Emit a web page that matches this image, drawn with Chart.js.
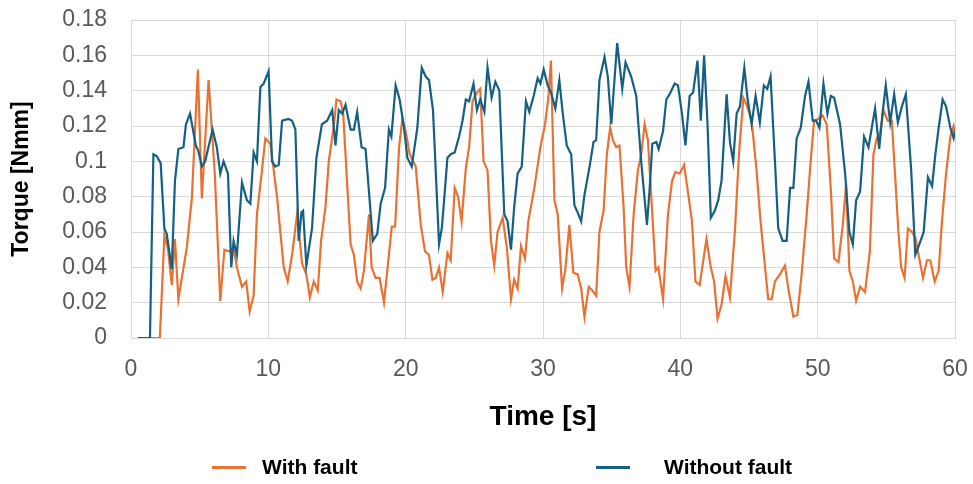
<!DOCTYPE html>
<html>
<head>
<meta charset="utf-8">
<script src="https://cdn.jsdelivr.net/npm/chart.js@4"></script>
<style>
  html, body { margin: 0; padding: 0; background: #ffffff; }
  #wrap { position: relative; width: 973px; height: 484px; font-family: "Liberation Sans", Arial, sans-serif; }
  #chart { position: absolute; left: 0; top: 0; }
  .lg-item { position: absolute; top: 455px; height: 24px; }
  .lg-swatch { position: absolute; top: 11px; height: 3px; width: 34px; }
  .lg-text { position: absolute; top: 0; left: 50px; font-weight: bold; font-size: 21px; line-height: 24px; color: #000; white-space: nowrap; }
</style>
</head>
<body>
<div id="wrap">
  <canvas id="chart" width="973" height="484"></canvas>
  <div id="legend"></div>
</div>
<script>
// ---- Data ----
const seriesNames = ["With fault", "Without fault"];

const faultTime = [0.5,2.1,2.43,2.68,2.97,3.2,3.45,4.06,4.43,4.87,5.16,5.65,6.1,6.5,6.8,7.15,7.47,7.71,8.08,8.39,8.64,8.93,9.17,9.54,9.78,10.15,10.63,11.12,11.41,11.73,12.09,12.46,12.77,13.02,13.31,13.6,13.84,14.16,14.4,14.77,14.96,15.26,15.45,15.99,16.23,16.47,16.72,16.96,17.33,17.52,17.81,18.1,18.42,18.78,18.99,19.23,19.52,19.76,20.0,20.29,20.73,21.1,21.41,21.7,21.95,22.19,22.43,22.7,23.04,23.28,23.57,23.82,24.07,24.38,24.62,24.87,25.11,25.43,25.67,25.96,26.21,26.45,26.69,27.06,27.37,27.67,27.9,28.15,28.4,28.69,28.93,29.37,29.81,30.15,30.39,30.58,30.83,31.07,31.39,31.63,31.92,32.21,32.53,32.78,33.02,33.33,33.58,33.87,34.11,34.41,34.65,34.89,35.09,35.33,35.57,35.87,36.06,36.3,36.6,36.91,37.15,37.4,37.64,37.96,38.2,38.4,38.74,39.1,39.4,39.64,39.95,40.27,40.51,40.85,41.1,41.41,41.9,42.22,42.46,42.71,43.0,43.29,43.61,43.97,44.27,44.59,44.83,45.19,45.55,45.84,46.08,46.4,46.65,46.89,47.25,47.62,47.86,48.23,48.52,48.83,49.2,49.49,49.74,50.04,50.36,50.66,50.95,51.2,51.51,51.83,52.07,52.31,52.56,52.8,53.09,53.45,53.8,54.06,54.3,54.55,54.79,55.1,55.4,55.6,55.88,56.08,56.33,56.57,56.86,57.11,57.4,57.67,57.96,58.2,58.52,58.81,59.05,59.35,59.66,59.9,60.0];
const faultTorque = [0,0,0.058,0.051,0.030,0.056,0.022,0.051,0.079,0.152,0.079,0.146,0.093,0.021,0.050,0.049,0.051,0.040,0.029,0.032,0.015,0.024,0.070,0.095,0.113,0.110,0.080,0.040,0.032,0.047,0.070,0.042,0.036,0.023,0.032,0.027,0.055,0.074,0.100,0.120,0.135,0.134,0.127,0.053,0.047,0.032,0.028,0.038,0.070,0.040,0.034,0.034,0.020,0.047,0.063,0.063,0.108,0.124,0.117,0.104,0.097,0.064,0.049,0.047,0.033,0.034,0.040,0.026,0.048,0.044,0.085,0.080,0.066,0.096,0.108,0.134,0.138,0.141,0.100,0.095,0.055,0.041,0.060,0.068,0.051,0.022,0.033,0.028,0.052,0.045,0.066,0.085,0.108,0.121,0.136,0.157,0.078,0.070,0.028,0.039,0.064,0.037,0.036,0.028,0.012,0.029,0.027,0.024,0.060,0.072,0.104,0.119,0.112,0.108,0.109,0.074,0.040,0.029,0.070,0.095,0.104,0.121,0.112,0.070,0.038,0.040,0.022,0.070,0.089,0.094,0.093,0.098,0.085,0.066,0.032,0.030,0.056,0.040,0.032,0.011,0.019,0.035,0.023,0.060,0.104,0.136,0.132,0.123,0.095,0.066,0.047,0.022,0.022,0.032,0.036,0.041,0.028,0.012,0.013,0.036,0.070,0.100,0.123,0.124,0.126,0.121,0.085,0.045,0.043,0.064,0.087,0.038,0.032,0.021,0.029,0.026,0.049,0.104,0.113,0.116,0.129,0.123,0.123,0.097,0.060,0.040,0.034,0.062,0.060,0.057,0.045,0.034,0.044,0.044,0.032,0.038,0.066,0.093,0.114,0.120,0.115];

const normalTime = [0.5,1.38,1.63,1.87,2.16,2.43,2.6,2.97,3.2,3.45,3.82,4.0,4.3,4.72,4.9,5.16,5.4,5.94,6.25,6.5,6.74,7.06,7.3,7.47,7.71,8.08,8.44,8.69,8.93,9.17,9.42,9.66,10.02,10.27,10.51,10.76,11.0,11.48,11.73,11.97,12.21,12.41,12.53,12.77,13.18,13.5,13.9,14.28,14.65,14.89,15.13,15.38,15.62,15.99,16.23,16.47,16.79,17.08,17.61,17.93,18.18,18.5,18.78,18.96,19.27,19.56,19.88,20.12,20.44,20.85,21.17,21.46,21.7,21.99,22.43,22.63,22.8,23.04,23.28,23.57,23.89,24.14,24.38,24.62,24.94,25.19,25.43,25.73,25.96,26.26,26.53,26.82,27.18,27.42,27.67,27.9,28.15,28.45,28.76,29.0,29.32,29.61,29.81,30.05,30.34,30.58,30.9,31.19,31.44,31.73,32.05,32.29,32.53,32.78,33.02,33.39,33.68,33.87,34.11,34.48,34.72,34.97,35.4,35.77,36.01,36.42,36.79,37.15,37.57,37.77,37.96,38.25,38.42,38.74,38.98,39.22,39.59,39.83,40.12,40.37,40.68,40.93,41.25,41.49,41.73,41.98,42.22,42.51,42.76,43.0,43.37,43.61,43.85,44.1,44.34,44.66,44.9,45.19,45.48,45.79,46.08,46.33,46.57,46.89,47.13,47.45,47.74,47.99,48.23,48.47,48.77,49.08,49.33,49.64,49.89,50.13,50.42,50.71,50.96,51.2,51.63,52.0,52.31,52.56,52.8,53.09,53.38,53.7,54.18,54.48,54.72,54.96,55.28,55.57,55.84,56.13,56.42,56.81,57.11,57.4,57.72,58.03,58.33,58.57,58.81,59.1,59.35,59.66,59.9,60.0];
const normalTorque = [0,0,0.104,0.103,0.099,0.062,0.059,0.039,0.089,0.107,0.108,0.121,0.127,0.109,0.106,0.097,0.100,0.118,0.108,0.093,0.100,0.093,0.040,0.055,0.047,0.088,0.078,0.076,0.105,0.100,0.142,0.144,0.151,0.100,0.097,0.098,0.123,0.124,0.123,0.118,0.055,0.071,0.072,0.041,0.062,0.102,0.121,0.123,0.129,0.109,0.129,0.127,0.132,0.118,0.118,0.128,0.108,0.107,0.055,0.059,0.076,0.085,0.118,0.114,0.143,0.135,0.119,0.102,0.097,0.119,0.153,0.148,0.146,0.129,0.053,0.062,0.078,0.102,0.104,0.105,0.114,0.123,0.135,0.134,0.144,0.129,0.135,0.128,0.153,0.136,0.145,0.140,0.070,0.066,0.050,0.074,0.093,0.097,0.134,0.128,0.137,0.147,0.144,0.152,0.143,0.139,0.130,0.146,0.127,0.109,0.104,0.075,0.071,0.066,0.081,0.097,0.111,0.112,0.146,0.159,0.148,0.121,0.167,0.141,0.156,0.148,0.137,0.100,0.064,0.085,0.110,0.111,0.107,0.117,0.135,0.138,0.144,0.143,0.127,0.109,0.137,0.139,0.157,0.123,0.160,0.121,0.068,0.072,0.078,0.089,0.138,0.111,0.100,0.127,0.131,0.153,0.135,0.121,0.137,0.122,0.143,0.141,0.148,0.100,0.062,0.055,0.055,0.085,0.085,0.113,0.119,0.137,0.145,0.123,0.123,0.119,0.144,0.127,0.137,0.136,0.121,0.093,0.060,0.053,0.078,0.083,0.114,0.108,0.130,0.107,0.127,0.143,0.122,0.138,0.122,0.131,0.138,0.095,0.047,0.053,0.060,0.091,0.086,0.104,0.119,0.135,0.131,0.119,0.113,0.117];

const xTicks = [0, 10, 20, 30, 40, 50, 60];
const yTicks = [0, 0.02, 0.04, 0.06, 0.08, 0.1, 0.12, 0.14, 0.16, 0.18];

// ---- Build chart ----
const toPoints = (xs, ys) => xs.map((x, i) => ({ x: x, y: ys[i] }));
const FONT = '"Liberation Sans", Arial, sans-serif';
const colorFault = '#E97132';
const colorNormal = '#156082';

const datasets = [
  { label: seriesNames[1], data: toPoints(normalTime, normalTorque), borderColor: colorNormal, backgroundColor: colorNormal, borderWidth: 2.2, pointRadius: 0, tension: 0, fill: false },
  { label: seriesNames[0], data: toPoints(faultTime, faultTorque), borderColor: colorFault, backgroundColor: colorFault, borderWidth: 2.2, pointRadius: 0, tension: 0, fill: false }
];

const chart = new Chart(document.getElementById('chart'), {
  type: 'line',
  data: { datasets: datasets },
  options: {
    responsive: false,
    animation: false,
    layout: { padding: { top: 20, right: 18, bottom: 46, left: 0 } },
    plugins: { legend: { display: false }, tooltip: { enabled: false } },
    scales: {
      x: {
        type: 'linear', min: xTicks[0], max: xTicks[xTicks.length - 1],
        afterBuildTicks: (s) => { s.ticks = xTicks.map(v => ({ value: v })); },
        afterFit: (s) => { s.height = 100; },
        grid: { color: '#d9d9d9', lineWidth: 1, drawTicks: true, tickLength: 18, tickColor: 'rgba(0,0,0,0)' },
        border: { color: '#d9d9d9' },
        ticks: { padding: 0, color: '#595959', font: { family: FONT, size: 23 }, maxRotation: 0 },
        title: { display: true, text: 'Time [s]', color: '#000', font: { family: FONT, size: 28, weight: 'bold' }, padding: { top: 0, bottom: 4 } }
      },
      y: {
        type: 'linear', min: yTicks[0], max: yTicks[yTicks.length - 1],
        afterBuildTicks: (s) => { s.ticks = yTicks.map(v => ({ value: v })); },
        afterFit: (s) => { s.width = 131; },
        grid: { color: '#d9d9d9', lineWidth: 1, drawTicks: true, tickLength: 24, tickColor: 'rgba(0,0,0,0)' },
        border: { color: '#d9d9d9' },
        ticks: { padding: 0, color: '#595959', font: { family: FONT, size: 23 }, callback: (v) => String(parseFloat(Number(v).toFixed(2))) },
        title: { display: true, text: 'Torque [Nmm]', color: '#000', font: { family: FONT, size: 23, weight: 'bold' }, padding: { top: 8, bottom: 0 } }
      }
    }
  }
});

// ---- HTML legend built from the datasets ----
const legendEl = document.getElementById('legend');
const legendOrder = [seriesNames[0], seriesNames[1]];
const legendLeft = [212, 596];
const textOffset = [50, 68];
legendOrder.forEach((name, i) => {
  const ds = chart.data.datasets.find(d => d.label === name);
  const item = document.createElement('div');
  item.className = 'lg-item';
  item.style.left = legendLeft[i] + 'px';
  const sw = document.createElement('div');
  sw.className = 'lg-swatch';
  sw.style.background = ds.borderColor;
  const tx = document.createElement('div');
  tx.className = 'lg-text';
  tx.style.left = textOffset[i] + 'px';
  tx.textContent = ds.label;
  item.appendChild(sw); item.appendChild(tx);
  legendEl.appendChild(item);
});
</script>
</body>
</html>
